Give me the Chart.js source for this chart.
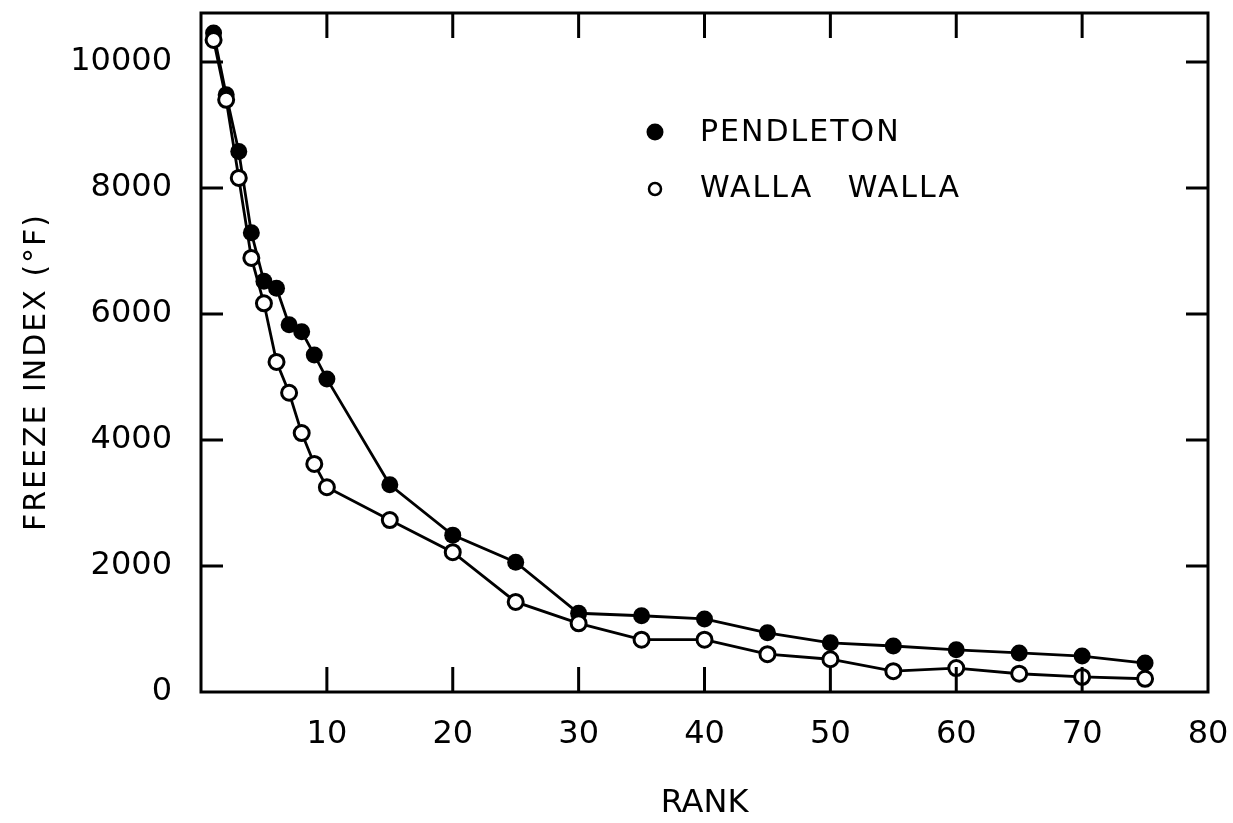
<!DOCTYPE html>
<html>
<head>
<meta charset="utf-8">
<script src="https://cdn.jsdelivr.net/npm/chart.js@4"></script>
<style>
  body { margin: 0; background: #fff; }
  #wrap { width: 1233px; height: 823px; }
</style>
</head>
<body>
<div id="wrap"><canvas id="freezeChart"></canvas></div>
<script>
const ranks = [1, 2, 3, 4, 5, 6, 7, 8, 9, 10, 15, 20, 25, 30, 35, 40, 45, 50, 55, 60, 65, 70, 75];
const pendleton = [10460, 9480, 8580, 7290, 6520, 6410, 5830, 5720, 5350, 4970, 3290, 2490, 2060, 1250, 1210, 1160, 940, 780, 730, 670, 620, 570, 460];
const wallaWalla = [10350, 9400, 8160, 6890, 6170, 5240, 4750, 4110, 3620, 3250, 2730, 2220, 1430, 1090, 830, 830, 600, 520, 330, 380, 290, 240, 210];
const xTicks = [10, 20, 30, 40, 50, 60, 70, 80];
const yTicks = [0, 2000, 4000, 6000, 8000, 10000];

const FONT = 'DejaVu Sans';

// frame, inward ticks, y title and legend
const framePlugin = {
  id: 'frame',
  afterDraw(chart) {
    const { ctx, chartArea: a, scales: { x, y } } = chart;
    ctx.save();
    ctx.strokeStyle = '#000';
    ctx.lineWidth = 3;
    ctx.strokeRect(a.left, a.top, a.right - a.left, a.bottom - a.top);
    ctx.beginPath();
    xTicks.filter(v => v < 80).forEach(v => {
      const px = x.getPixelForValue(v);
      ctx.moveTo(px, a.bottom); ctx.lineTo(px, a.bottom - 25);
      ctx.moveTo(px, a.top); ctx.lineTo(px, a.top + 25);
    });
    yTicks.filter(v => v > 0).forEach(v => {
      const py = y.getPixelForValue(v);
      ctx.moveTo(a.left, py); ctx.lineTo(a.left + 22, py);
      ctx.moveTo(a.right, py); ctx.lineTo(a.right - 22, py);
    });
    ctx.stroke();

    // y axis title
    ctx.fillStyle = '#000';
    ctx.font = '30px "' + FONT + '"';
    ctx.letterSpacing = '2px';
    ctx.textAlign = 'center';
    ctx.textBaseline = 'middle';
    ctx.save();
    ctx.translate(37, 372);
    ctx.rotate(-Math.PI / 2);
    ctx.fillText('FREEZE INDEX (°F)', 0, 0);
    ctx.restore();

    // legend
    ctx.textAlign = 'left';
    ctx.beginPath();
    ctx.arc(655, 132, 8.5, 0, Math.PI * 2);
    ctx.fill();
    ctx.fillText('PENDLETON', 700, 133);
    ctx.beginPath();
    ctx.lineWidth = 2.5;
    ctx.arc(655, 189, 6, 0, Math.PI * 2);
    ctx.stroke();
    ctx.fillText('WALLA   WALLA', 700, 189);
    ctx.restore();
  }
};

const hiddenGrid = len => ({
  display: true,
  drawOnChartArea: false,
  drawTicks: true,
  tickLength: len,
  color: 'rgba(0,0,0,0)'
});

new Chart(document.getElementById('freezeChart'), {
  type: 'line',
  data: {
    datasets: [
      {
        label: 'PENDLETON',
        data: ranks.map((r, i) => ({ x: r, y: pendleton[i] })),
        borderColor: '#000',
        borderWidth: 2.8,
        pointRadius: 8.5,
        pointBackgroundColor: '#000',
        pointBorderColor: '#000',
        pointBorderWidth: 0,
        order: 1
      },
      {
        label: 'WALLA WALLA',
        data: ranks.map((r, i) => ({ x: r, y: wallaWalla[i] })),
        borderColor: '#000',
        borderWidth: 2.8,
        pointRadius: 7.5,
        pointBackgroundColor: '#fff',
        pointBorderColor: '#000',
        pointBorderWidth: 3,
        order: 0
      }
    ]
  },
  options: {
    responsive: true,
    maintainAspectRatio: false,
    animation: false,
    layout: { padding: { top: 13, right: 25, left: 0, bottom: 0 } },
    plugins: { legend: { display: false }, tooltip: { enabled: false } },
    scales: {
      x: {
        type: 'linear',
        min: 0,
        max: 80,
        grid: hiddenGrid(30),
        border: { display: false },
        afterFit: s => { s.height = 131; },
        afterBuildTicks: s => { s.ticks = xTicks.map(v => ({ value: v })); },
        ticks: { color: '#000', padding: 0, callback: v => String(v), font: { family: FONT, size: 32, lineHeight: 0.8 } },
        title: { display: true, text: 'RANK', color: '#000', padding: { bottom: 0 }, font: { family: FONT, size: 32 } }
      },
      y: {
        min: 0,
        max: 10778,
        grid: hiddenGrid(29),
        border: { display: false },
        afterFit: s => { s.width = 201; },
        afterBuildTicks: s => { s.ticks = yTicks.map(v => ({ value: v })); },
        ticks: { color: '#000', padding: 0, callback: v => String(v), font: { family: FONT, size: 32, lineHeight: 0.75 } }
      }
    }
  },
  plugins: [framePlugin]
});
</script>
</body>
</html>
